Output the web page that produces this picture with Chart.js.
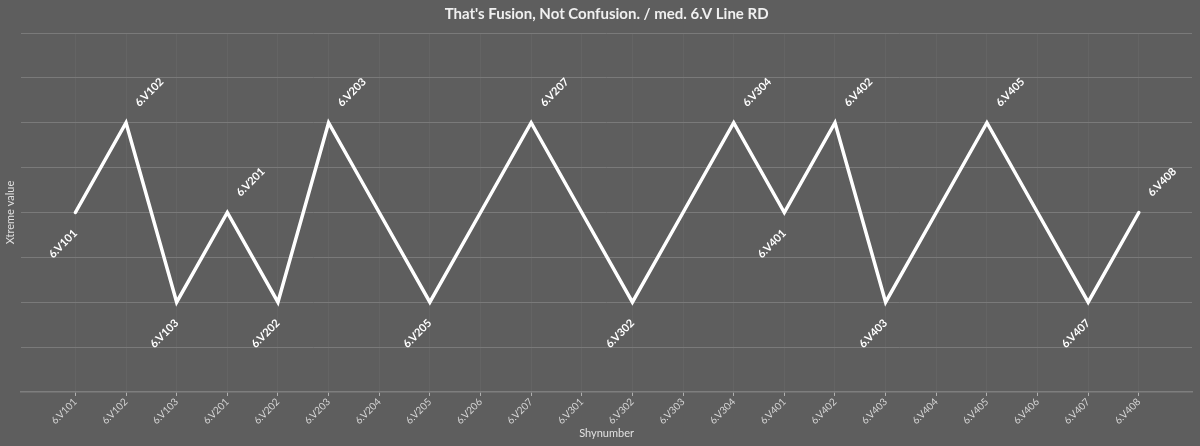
<!DOCTYPE html>
<html>
<head>
<meta charset="utf-8">
<script src="https://cdn.jsdelivr.net/npm/chart.js@4.4.0/dist/chart.umd.min.js"></script>
<style>
  html, body { margin: 0; padding: 0; background: #5e5e5e; }
  #wrap { width: 1200px; height: 446px; }
</style>
</head>
<body>
<div id="wrap"><canvas id="c" width="1200" height="446"></canvas></div>
<script>
const categories = ['6.V101','6.V102','6.V103','6.V201','6.V202','6.V203','6.V204','6.V205','6.V206','6.V207','6.V301','6.V302','6.V303','6.V304','6.V401','6.V402','6.V403','6.V404','6.V405','6.V406','6.V407','6.V408'];
const values = [2,3,1,2,1,3,2,1,2,3,2,1,2,3,2,3,1,2,3,2,1,2];
const chartTitle = "That's Fusion, Not Confusion. / med. 6.V Line RD";
const xTitle = 'Shynumber';
const yTitle = 'Xtreme value';

const FONT = 'Lato, "Open Sans", sans-serif';

const bgPlugin = {
  id: 'bg',
  beforeDraw(chart) {
    const ctx = chart.ctx;
    ctx.save();
    ctx.fillStyle = '#5e5e5e';
    ctx.fillRect(0, 0, chart.width, chart.height);
    ctx.restore();
  }
};

// Title centred over the plot area
const areaTitle = {
  id: 'areaTitle',
  afterDraw(chart) {
    const ctx = chart.ctx;
    const a = chart.chartArea;
    ctx.save();
    ctx.fillStyle = '#f0f0f0';
    ctx.font = 'bold 15px ' + FONT;
    ctx.textAlign = 'center';
    ctx.textBaseline = 'middle';
    ctx.fillText(chartTitle, (a.left + a.right) / 2, 14.5);
    ctx.restore();
  }
};

const pointLabels = {
  id: 'pointLabels',
  afterDatasetsDraw(chart) {
    const ctx = chart.ctx;
    const meta = chart.getDatasetMeta(0);
    const n = values.length;
    ctx.save();
    ctx.fillStyle = '#ffffff';
    ctx.font = 'bold 11px ' + FONT;
    ctx.textBaseline = 'middle';
    meta.data.forEach((pt, i) => {
      const v = values[i];
      const prev = i > 0 ? values[i - 1] : null;
      const next = i < n - 1 ? values[i + 1] : null;
      let pos = null;
      if (prev === null) pos = v > next ? 'above' : 'below';
      else if (next === null) pos = v > prev ? 'above' : 'below';
      else if (v > prev && v > next) pos = 'above';
      else if (v < prev && v < next) pos = 'below';
      if (!pos) return;
      ctx.save();
      if (pos === 'above') {
        ctx.translate(pt.x + 11, pt.y - 18);
        ctx.rotate(-Math.PI / 4);
        ctx.textAlign = 'left';
      } else {
        ctx.translate(pt.x, pt.y + 19);
        ctx.rotate(-Math.PI / 4);
        ctx.textAlign = 'right';
      }
      ctx.fillText(categories[i], 0, 0);
      ctx.restore();
    });
    ctx.restore();
  }
};

new Chart(document.getElementById('c'), {
  type: 'line',
  data: {
    datasets: [{
      data: values.map((v, i) => ({ x: i, y: v })),
      borderColor: '#ffffff',
      borderWidth: 3.5,
      borderJoinStyle: 'miter',
      borderCapStyle: 'round',
      pointRadius: 0,
      pointHoverRadius: 0,
      tension: 0,
      fill: false
    }]
  },
  options: {
    responsive: false,
    animation: false,
    layout: { padding: { right: 8, left: 0, top: 33, bottom: 0 } },
    plugins: {
      legend: { display: false },
      tooltip: { enabled: false },
      title: { display: false }
    },
    scales: {
      x: {
        type: 'linear',
        min: -1.07,
        max: 22.05,
        afterBuildTicks(scale) {
          scale.ticks = categories.map((_, i) => ({ value: i }));
        },
        ticks: {
          autoSkip: false,
          minRotation: 45,
          maxRotation: 45,
          color: '#d4d4d4',
          font: { family: FONT, size: 10 },
          padding: 0,
          callback: (v) => categories[v] ?? ''
        },
        grid: {
          color: '#646464',
          tickColor: '#b0b0b0',
          tickLength: 4,
          lineWidth: 1
        },
        border: { display: true, color: '#7e7e7e', width: 1.5 },
        title: {
          display: true,
          text: xTitle,
          color: '#e0e0e0',
          font: { family: FONT, size: 11 },
          padding: { top: 0, bottom: 6 }
        }
      },
      y: {
        min: 0,
        max: 4,
        ticks: { display: false, stepSize: 0.5 },
        grid: { color: '#7a7a7a', drawTicks: false, lineWidth: 1 },
        border: { display: false },
        title: {
          display: true,
          text: yTitle,
          color: '#e0e0e0',
          font: { family: FONT, size: 11 },
          padding: 4
        }
      }
    }
  },
  plugins: [bgPlugin, areaTitle, pointLabels]
});
</script>
</body>
</html>
